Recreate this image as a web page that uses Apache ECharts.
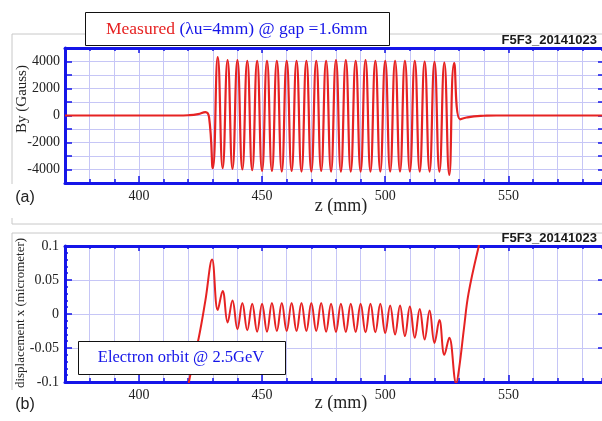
<!DOCTYPE html>
<html>
<head>
<meta charset="utf-8">
<script src="https://cdn.jsdelivr.net/npm/echarts@6/dist/echarts.min.js"></script>
<style>
html, body { margin: 0; padding: 0; background: #fff; }
#chart { width: 602px; height: 421px; }
</style>
</head>
<body>
<div id="chart"></div>
<script>
//横轴 z (mm)
var zMin = 370, zMax = 588;
var zMajor = [400, 450, 500, 550];

//上图 By (Gauss)：入口、波峰、波谷、出口
var byLeadIn = [[370, 0], [416, 0], [420, 20], [424, 100], [427, 250], [428.5, -150]];
var byTroughs = [[430, -3900], [434, -3900], [438, -3950], [442, -4000], [446, -4050], [450, -4100],
	[454, -4100], [458, -4150], [462, -4100], [466, -4150], [470, -4150], [474, -4100], [478, -4150],
	[482, -4150], [486, -4150], [490, -4150], [494, -4150], [498, -4150], [502, -4150], [506, -4150],
	[510, -4150], [514, -4150], [518, -4150], [522, -4150], [526, -4400]];
var byPeaks = [[432, 4320], [436, 4100], [440, 4100], [444, 4050], [448, 4050], [452, 4050],
	[456, 4050], [460, 4050], [464, 4050], [468, 4050], [472, 4050], [476, 4050], [480, 4100],
	[484, 4100], [488, 4050], [492, 4100], [496, 4050], [500, 4050], [504, 4050], [508, 4050],
	[512, 4050], [516, 4000], [520, 3980], [524, 3920], [528, 3880]];
var byLeadOut = [[530.4, -280], [533, -150], [536, -60], [540, -20], [545, 0], [588, 0]];

//下图 displacement x (micrometer)
var dxRampIn = [[417, -0.17], [420.3, -0.1], [424.3, -0.035], [427, 0.02]];
var dxOrbit = [[429.7, 0.08], [432, 0.006], [434, 0.034], [436, -0.0125], [438, 0.02], [440, -0.0225],
	[442, 0.016], [444, -0.024], [446, 0.015], [448, -0.026], [450, 0.015], [452, -0.026],
	[454, 0.016], [456, -0.025], [458, 0.016], [460, -0.025], [462, 0.016], [464, -0.025],
	[466, 0.016], [468, -0.025], [470, 0.016], [472, -0.025], [474, 0.016], [476, -0.026],
	[478, 0.015], [480, -0.0265], [482, 0.015], [484, -0.0265], [486, 0.015], [488, -0.0265],
	[490, 0.015], [492, -0.027], [494, 0.015], [496, -0.027], [498, 0.015], [500, -0.028],
	[502, 0.0125], [504, -0.03], [506, 0.0125], [508, -0.0325], [510, 0.011], [512, -0.035],
	[514, 0.0075], [516, -0.0375], [518, 0.005], [520, -0.0425], [522, -0.009], [524, -0.06],
	[526, -0.035], [528.8, -0.102]];
var dxRampOut = [[530, -0.08], [532, -0.02], [533.8, 0.03], [538, 0.1], [540, 0.125]];

var BLUE = '#1515e8';
var RED = '#e62222';
var GRIDC = '#c6c6f6';
var SERIF = '"Liberation Serif", "Times New Roman", serif';
var SANS = '"Liberation Sans", Arial, sans-serif';

function byZ(a, b) { return a[0] - b[0]; }
var byData = byLeadIn.concat(byTroughs, byPeaks, byLeadOut).sort(byZ);
var dxData = dxRampIn.concat(dxOrbit, dxRampOut).sort(byZ);

//z轴：细刻度(每10mm)和主刻度(每50mm)
function zAxis(grid, pos, tickLen, major, showLabel) {
	var ax = {
		type: 'value', gridIndex: grid, position: pos, min: zMin, max: zMax, interval: 10,
		axisLine: { show: !major, onZero: false, lineStyle: { color: BLUE, width: 3 } },
		axisTick: { show: true, inside: true, length: tickLen, lineStyle: { color: BLUE, width: 1.5 } },
		axisLabel: { show: false },
		splitLine: { show: !major && pos == 'bottom', lineStyle: { color: GRIDC, width: 1 } }
	};
	if (major) {
		ax.axisTick.customValues = zMajor;
		ax.axisLabel = {
			show: showLabel, customValues: zMajor, margin: 6,
			color: '#222', fontFamily: SERIF, fontSize: 14
		};
	}
	return ax;
}

var chart = echarts.init(document.getElementById('chart'));
var option = {
	backgroundColor: '#fff',
	animation: false,
	grid: [
		{ left: 65, top: 48, width: 538, height: 135 },
		{ left: 65, top: 246, width: 538, height: 136 }
	],
	xAxis: [
		zAxis(0, 'bottom', 4, false), zAxis(0, 'bottom', 7, true, true),
		zAxis(0, 'top', 3, false), zAxis(0, 'top', 5, true, false),
		zAxis(1, 'bottom', 4, false), zAxis(1, 'bottom', 7, true, true),
		zAxis(1, 'top', 3, false), zAxis(1, 'top', 5, true, false)
	],
	yAxis: [
		{
			type: 'value', gridIndex: 0, position: 'left', min: -5000, max: 5000, interval: 1000,
			axisLine: { show: true, onZero: false, lineStyle: { color: BLUE, width: 3 } },
			axisTick: { inside: true, length: 7, lineStyle: { color: BLUE, width: 1.5 } },
			axisLabel: {
				margin: 5, color: '#222', fontFamily: SERIF, fontSize: 14,
				formatter: function (v) { return v % 2000 === 0 ? String(v) : ''; }
			},
			splitLine: { show: true, lineStyle: { color: GRIDC, width: 1 } }
		},
		{
			type: 'value', gridIndex: 0, position: 'right', min: -5000, max: 5000, interval: 1000,
			axisLine: { show: false, onZero: false },
			axisTick: { show: true, inside: true, length: 4, lineStyle: { color: BLUE, width: 1.5 } },
			axisLabel: { show: false },
			splitLine: { show: false }
		},
		{
			type: 'value', gridIndex: 1, position: 'left', min: -0.1, max: 0.1, interval: 0.01,
			axisLine: { show: true, onZero: false, lineStyle: { color: BLUE, width: 3 } },
			axisTick: { inside: true, length: 3, lineStyle: { color: BLUE, width: 1.5 } },
			axisLabel: { show: false },
			splitLine: { show: false }
		},
		{
			type: 'value', gridIndex: 1, position: 'left', min: -0.1, max: 0.1, interval: 0.05,
			axisLine: { show: false, onZero: false },
			axisTick: { inside: true, length: 7, lineStyle: { color: BLUE, width: 1.5 } },
			axisLabel: { margin: 6, color: '#222', fontFamily: SERIF, fontSize: 14 },
			splitLine: { show: true, lineStyle: { color: GRIDC, width: 1 } }
		},
		{
			type: 'value', gridIndex: 1, position: 'right', min: -0.1, max: 0.1, interval: 0.05,
			axisLine: { show: false, onZero: false },
			axisTick: { show: true, inside: true, length: 4, lineStyle: { color: BLUE, width: 1.5 } },
			axisLabel: { show: false },
			splitLine: { show: false }
		}
	],
	series: [
		{
			name: 'By', type: 'line', xAxisIndex: 0, yAxisIndex: 0, data: byData,
			showSymbol: false, smooth: 0.5, silent: true, z: 3,
			lineStyle: { color: RED, width: 2.2 }
		},
		{
			name: 'displacement', type: 'line', xAxisIndex: 4, yAxisIndex: 3, data: dxData,
			showSymbol: false, smooth: 0.4, silent: true, z: 3,
			lineStyle: { color: RED, width: 2 }
		}
	],
	graphic: [
		//灰色外框
		{ type: 'polyline', z: 50, shape: { points: [[12, 184], [12, 34], [602, 34]] }, style: { fill: null, stroke: '#c8c8c8', lineWidth: 1 } },
		{ type: 'polyline', z: 50, shape: { points: [[12, 218], [12, 224], [602, 224]] }, style: { fill: null, stroke: '#c8c8c8', lineWidth: 1 } },
		{ type: 'polyline', z: 50, shape: { points: [[12, 390], [12, 233], [602, 233]] }, style: { fill: null, stroke: '#c8c8c8', lineWidth: 1 } },
		//标题框
		{ type: 'rect', z: 60, shape: { x: 85.5, y: 12.5, width: 304, height: 33 }, style: { fill: '#fff', stroke: '#111', lineWidth: 1 } },
		{
			type: 'text', z: 61, x: 106, y: 29,
			style: {
				text: '{r|Measured} {b|(λu=4mm) @ gap =1.6mm}',
				font: '17.5px ' + SERIF, fill: BLUE, verticalAlign: 'middle', textVerticalAlign: 'middle',
				rich: {
					r: { fill: RED, fontSize: 17.5, fontFamily: SERIF },
					b: { fill: BLUE, fontSize: 17.5, fontFamily: SERIF }
				}
			}
		},
		{
			type: 'text', z: 61, x: 597, y: 40,
			style: { text: 'F5F3_20141023', font: 'bold 13px ' + SANS, fill: '#1a1a1a', align: 'right', textAlign: 'right', verticalAlign: 'middle', textVerticalAlign: 'middle' }
		},
		{
			type: 'text', z: 61, x: 597, y: 238,
			style: { text: 'F5F3_20141023', font: 'bold 13px ' + SANS, fill: '#1a1a1a', align: 'right', textAlign: 'right', verticalAlign: 'middle', textVerticalAlign: 'middle' }
		},
		//坐标轴名称
		{
			type: 'text', z: 61, x: 22, y: 99, rotation: Math.PI / 2,
			style: { text: 'By (Gauss)', font: '15px ' + SERIF, fill: '#222', align: 'center', textAlign: 'center', verticalAlign: 'middle', textVerticalAlign: 'middle' }
		},
		{
			type: 'text', z: 61, x: 21, y: 313, rotation: Math.PI / 2,
			style: { text: 'displacement x (micrometer)', font: '13px ' + SERIF, fill: '#222', align: 'center', textAlign: 'center', verticalAlign: 'middle', textVerticalAlign: 'middle' }
		},
		{
			type: 'text', z: 61, x: 341, y: 206,
			style: { text: 'z (mm)', font: '18px ' + SERIF, fill: '#222', align: 'center', textAlign: 'center', verticalAlign: 'middle', textVerticalAlign: 'middle' }
		},
		{
			type: 'text', z: 61, x: 341, y: 403,
			style: { text: 'z (mm)', font: '18px ' + SERIF, fill: '#222', align: 'center', textAlign: 'center', verticalAlign: 'middle', textVerticalAlign: 'middle' }
		},
		{
			type: 'text', z: 61, x: 25, y: 198,
			style: { text: '(a)', font: '16px ' + SANS, fill: '#222', align: 'center', textAlign: 'center', verticalAlign: 'middle', textVerticalAlign: 'middle' }
		},
		{
			type: 'text', z: 61, x: 25, y: 405,
			style: { text: '(b)', font: '16px ' + SANS, fill: '#222', align: 'center', textAlign: 'center', verticalAlign: 'middle', textVerticalAlign: 'middle' }
		},
		//电子轨道说明框
		{ type: 'rect', z: 60, shape: { x: 78.5, y: 341.5, width: 207, height: 33 }, style: { fill: '#fff', stroke: '#111', lineWidth: 1 } },
		{
			type: 'text', z: 61, x: 181, y: 358,
			style: { text: 'Electron orbit @ 2.5GeV', font: '16.5px ' + SERIF, fill: BLUE, align: 'center', textAlign: 'center', verticalAlign: 'middle', textVerticalAlign: 'middle' }
		}
	]
};
chart.setOption(option);
</script>
</body>
</html>
